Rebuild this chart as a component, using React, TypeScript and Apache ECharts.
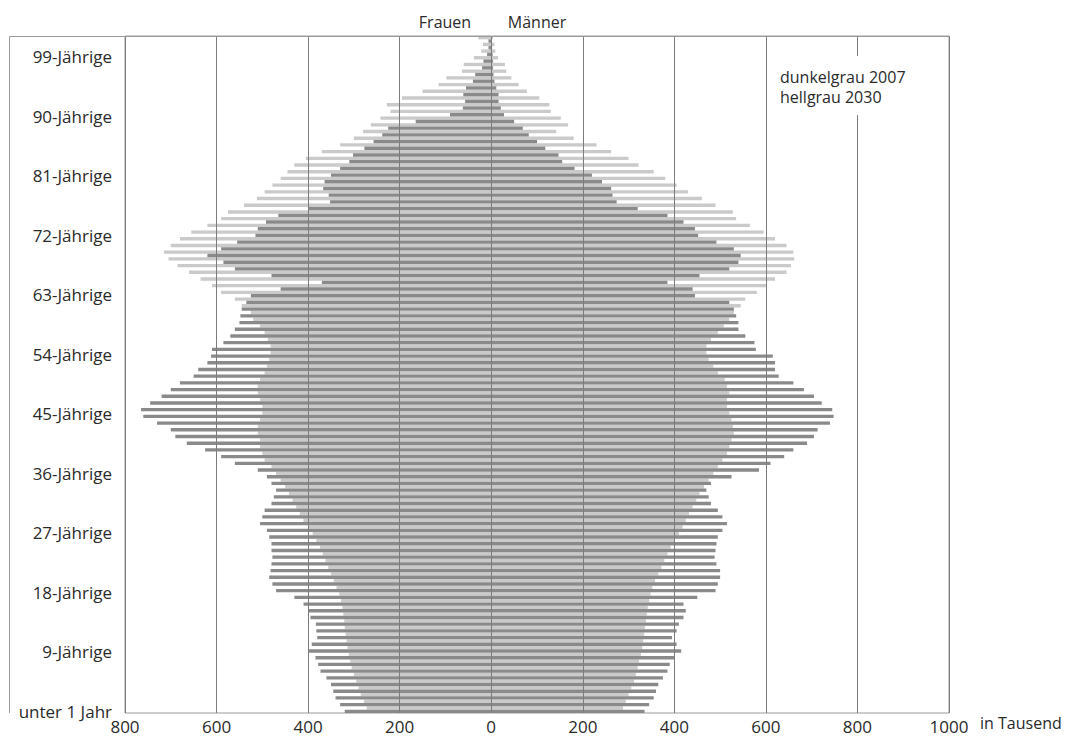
import React, { useEffect, useRef } from "react";
import * as echarts from "echarts";

// ages 0 .. 100 (category rows, bottom to top)
const AGES: string[] = Array.from({ length: 101 }, (_, i) => String(i));

// labelled ages on the left
const LABEL_AGES = [0, 9, 18, 27, 36, 45, 54, 63, 72, 81, 90, 99];

// x axis tick values (thousands); women drawn to the left (negative)
const X_MIN = -800;
const X_MAX = 1000;
const X_STEP = 200;

// Frauen 2007 (dunkelgrau), age 0 .. 100, thousands
const FRAUEN_2007 = [
  320, 330, 340, 345, 350, 360, 373, 378, 384, 398,
  392, 380, 382, 383, 395, 400, 410, 430, 470, 478,
  485, 482, 480, 478, 480, 480, 485, 490, 505, 500,
  495, 480, 475, 470, 480, 490, 510, 560, 590, 625,
  665, 690, 700, 730, 760, 765, 745, 720, 700, 680,
  650, 640, 620, 612, 610, 585, 570, 560, 550, 548,
  545, 535, 525, 460, 370, 480, 560, 585, 620, 590,
  555, 515, 510, 492, 465, 400, 352, 355, 367, 364,
  350, 330, 310, 302, 277, 257, 238, 225, 165, 90,
  62, 57, 61, 55, 40, 35, 20, 17, 9, 6,
  6,
];

// Männer 2007 (dunkelgrau)
const MAENNER_2007 = [
  335, 345, 355, 360, 365, 375, 385, 390, 400, 415,
  405, 395, 405, 410, 420, 425, 420, 450, 490, 495,
  500, 500, 492, 488, 490, 492, 495, 505, 515, 505,
  495, 480, 475, 470, 480, 525, 585, 610, 640, 660,
  690, 705, 713, 740, 748, 745, 722, 705, 683, 660,
  628, 620, 620, 615, 578, 575, 555, 540, 540, 535,
  530, 520, 445, 440, 385, 455, 520, 540, 545, 530,
  492, 452, 445, 420, 385, 320, 274, 265, 262, 242,
  220, 182, 155, 147, 118, 100, 82, 69, 50, 28,
  21, 16, 16, 11, 7, 5, 4, 4, 3, 2,
  1,
];

// Frauen 2030 (hellgrau)
const FRAUEN_2030 = [
  272, 278, 285, 290, 295, 300, 305, 308, 311, 314,
  316, 318, 320, 321, 323, 325, 328, 332, 338, 344,
  350, 356, 362, 368, 374, 382, 390, 400, 410, 418,
  426, 434, 442, 450, 460, 470, 480, 495, 500, 505,
  505, 510, 510, 505, 500, 500, 505, 510, 510, 505,
  495, 490, 485, 482, 482, 488, 495, 505, 520, 525,
  545, 560, 590, 610, 635, 660, 685, 705, 715, 700,
  680, 655, 620, 590, 575, 540, 512, 495, 478, 460,
  445, 430, 405, 370, 330, 300, 280, 263, 242, 220,
  228, 195, 150, 115, 98, 64, 60, 38, 22, 18,
  28,
];

// Männer 2030 (hellgrau)
const MAENNER_2030 = [
  288, 294, 300, 306, 312, 316, 320, 323, 327, 330,
  332, 334, 336, 338, 340, 342, 345, 348, 352, 358,
  365, 372, 378, 385, 392, 400, 410, 418, 425, 432,
  440, 448, 455, 465, 475, 485, 495, 505, 515, 520,
  525, 530, 528, 525, 520, 515, 515, 520, 515, 510,
  495, 485, 475, 470, 470, 480, 495, 508, 520, 530,
  545, 555, 580, 600, 620, 645, 655, 662, 660, 645,
  620, 595, 565, 535, 528, 490, 460, 430, 405, 380,
  355, 322, 300, 262, 230, 180, 142, 168, 152, 130,
  127, 105, 78, 60, 44, 33, 30, 15, 9, 7,
  4,
];

const FONT = "'Open Sans', 'Noto Sans', sans-serif";
const DARK = "#8a8a8a";
const LIGHT = "#cacaca";
const TEXT = "#2a2a2a";

const ageLabel = (v: number) => (v === 0 ? "unter 1 Jahr" : `${v}-Jährige`);

export default function App() {
  const ref = useRef<HTMLDivElement>(null);

  useEffect(() => {
    if (!ref.current) return;
    const chart = echarts.init(ref.current, null, { renderer: "svg" });

    const neg = (arr: number[]) => arr.map((v) => -v);

    const barCommon = {
      type: "bar" as const,
      yAxisIndex: 0,
      barCategoryGap: "0%",
      barGap: "0%",
      silent: true,
      z: 2,
    };

    chart.setOption({
      animation: false,
      backgroundColor: "#ffffff",
      textStyle: { fontFamily: FONT },
      grid: {
        left: 125,
        top: 36,
        width: 824,
        height: 677,
        show: true,
        borderColor: "#9a9a9a",
        borderWidth: 1,
        backgroundColor: "transparent",
      },
      xAxis: {
        type: "value",
        min: X_MIN,
        max: X_MAX,
        interval: X_STEP,
        z: 5,
        axisLine: { show: false },
        axisTick: { show: false },
        splitLine: { show: true, lineStyle: { color: "#7c7c7c", width: 1 } },
        axisLabel: {
          formatter: (v: number) => String(Math.abs(v)),
          color: TEXT,
          fontSize: 17,
          fontFamily: FONT,
          margin: 5,
        },
        name: "in Tausend",
        nameLocation: "end",
        nameGap: 31,
        nameTextStyle: {
          color: TEXT,
          fontSize: 16,
          fontFamily: FONT,
          verticalAlign: "top",
          padding: [4, 0, 0, 0],
        },
      },
      yAxis: [
        {
          type: "category",
          data: AGES,
          show: false,
          boundaryGap: true,
        },
        {
          type: "value",
          min: -0.227,
          max: 102.13,
          position: "left",
          axisLine: { show: false },
          axisTick: { show: false },
          splitLine: { show: false },
          axisLabel: {
            customValues: LABEL_AGES,
            formatter: (v: number) => ageLabel(Math.round(v)),
            color: TEXT,
            fontSize: 17,
            fontFamily: FONT,
            margin: 13,
          },
        },
      ],
      graphic: [
        {
          type: "line",
          z: 100,
          shape: { x1: 9.5, y1: 36.5, x2: 949.5, y2: 36.5 },
          style: { stroke: "#9a9a9a", lineWidth: 1 },
        },
        {
          type: "line",
          z: 100,
          shape: { x1: 9.5, y1: 36.5, x2: 9.5, y2: 713 },
          style: { stroke: "#9a9a9a", lineWidth: 1 },
        },
        {
          type: "text",
          z: 100,
          x: 445,
          y: 22,
          style: {
            text: "Frauen",
            fill: TEXT,
            fontSize: 16,
            fontFamily: FONT,
            align: "center",
            verticalAlign: "middle",
          },
        },
        {
          type: "text",
          z: 100,
          x: 537,
          y: 22,
          style: {
            text: "Männer",
            fill: TEXT,
            fontSize: 16,
            fontFamily: FONT,
            align: "center",
            verticalAlign: "middle",
          },
        },
        {
          type: "rect",
          z: 100,
          shape: { x: 774, y: 56, width: 150, height: 59 },
          style: { fill: "#ffffff" },
        },
        {
          type: "text",
          z: 101,
          x: 780,
          y: 77,
          style: {
            text: "dunkelgrau 2007",
            fill: TEXT,
            fontSize: 16,
            fontFamily: FONT,
            align: "left",
            verticalAlign: "middle",
          },
        },
        {
          type: "text",
          z: 101,
          x: 780,
          y: 97,
          style: {
            text: "hellgrau 2030",
            fill: TEXT,
            fontSize: 16,
            fontFamily: FONT,
            align: "left",
            verticalAlign: "middle",
          },
        },
      ],
      series: [
        { ...barCommon, name: "Frauen 2030", stack: "y2030", data: neg(FRAUEN_2030), itemStyle: { color: LIGHT } },
        { ...barCommon, name: "Frauen 2007", stack: "y2007", data: neg(FRAUEN_2007), itemStyle: { color: DARK } },
        { ...barCommon, name: "Männer 2030", stack: "y2030", data: MAENNER_2030, itemStyle: { color: LIGHT } },
        { ...barCommon, name: "Männer 2007", stack: "y2007", data: MAENNER_2007, itemStyle: { color: DARK } },
      ],
    });

    return () => chart.dispose();
  }, []);

  return (
    <div
      ref={ref}
      style={{ position: "fixed", left: 0, top: 0, width: 1072, height: 737, background: "#fff" }}
    />
  );
}
